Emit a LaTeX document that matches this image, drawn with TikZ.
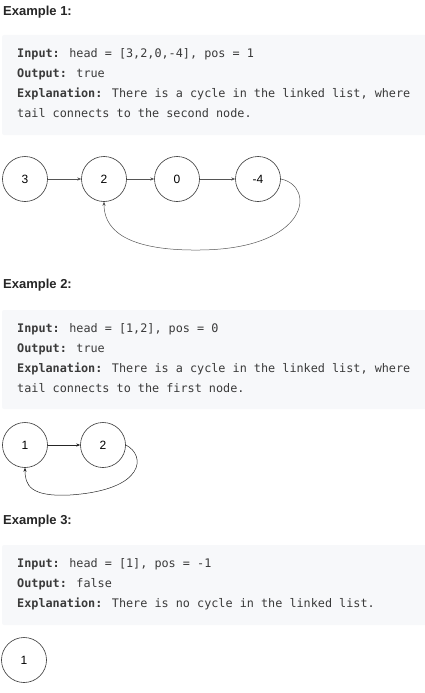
\documentclass[tikz,border=0pt]{standalone}
\usepackage{fontspec}
\setmainfont{Liberation Sans}
\newfontfamily\codefont{DejaVu Sans Mono}
\usetikzlibrary{arrows.meta}
\definecolor{boxbg}{HTML}{F7F8FA}
\definecolor{headtext}{HTML}{262626}
\definecolor{codetext}{HTML}{3A3A3A}
\definecolor{edgegray}{HTML}{555555}
\begin{document}
\begin{tikzpicture}[x=1pt,y=-1pt,
  heading/.style={anchor=mid west,inner sep=0pt,text=headtext,font=\fontsize{13}{15}\selectfont\bfseries},
  codebox/.style={fill=boxbg,draw=none,rounded corners=2pt},
  codeline/.style={anchor=mid west,inner sep=0pt,text=codetext,font=\codefont\fontsize{11.8}{14}\selectfont},
  listnode/.style={circle,draw=black!80,line width=0.6pt,minimum size=45pt,inner sep=0pt,font=\fontsize{12}{14}\selectfont},
  link/.style={draw=edgegray,line width=0.5pt,-{Stealth[length=4pt,width=3.2pt]}},
]
\useasboundingbox (0,0) rectangle (425,693);

% ---------- Example 1 ----------
\node[heading] (h1) at (3,13) {Example 1:};
\fill[codebox] (2,35) rectangle (428,135);
\node[codeline] (a1) at (17,55) {\textbf{Input:} head = [3,2,0,-4], pos = 1};
\node[codeline] (a2) at (17,75) {\textbf{Output:} true};
\node[codeline] (a3) at (17,95) {\textbf{Explanation:} There is a cycle in the linked list, where};
\node[codeline] (a4) at (17,115) {tail connects to the second node.};

\node[listnode] (p3) at (25,179) {3};
\node[listnode] (p2) at (104,179) {2};
\node[listnode] (p0) at (177,179) {0};
\node[listnode] (p4) at (258,179) {-4};
\draw[link] (p3) -- (p2);
\draw[link] (p2) -- (p0);
\draw[link] (p0) -- (p4);
\draw[link] (p4.east) .. controls (316,186) and (310,249) .. (200,250)
  .. controls (120,251) and (104,226) .. (p2.south);

% ---------- Example 2 ----------
\node[heading] (h2) at (3,286) {Example 2:};
\fill[codebox] (2,310) rectangle (428,409);
\node[codeline] (b1) at (17,330) {\textbf{Input:} head = [1,2], pos = 0};
\node[codeline] (b2) at (17,350) {\textbf{Output:} true};
\node[codeline] (b3) at (17,370) {\textbf{Explanation:} There is a cycle in the linked list, where};
\node[codeline] (b4) at (17,390) {tail connects to the first node.};

\node[listnode] (q1) at (25,445) {1};
\node[listnode] (q2) at (103,445) {2};
\draw[link,draw=black!85] (q1) -- (q2);
\draw[link,draw=black!85] (q2.east) .. controls (146,455) and (146,490) .. (70,495)
  .. controls (30,497) and (25,485) .. (q1.south);

% ---------- Example 3 ----------
\node[heading] (h3) at (3,522) {Example 3:};
\fill[codebox] (2,545) rectangle (428,625);
\node[codeline] (c1) at (17,565) {\textbf{Input:} head = [1], pos = -1};
\node[codeline] (c2) at (17,585) {\textbf{Output:} false};
\node[codeline] (c3) at (17,605) {\textbf{Explanation:} There is no cycle in the linked list.};

\node[listnode] (r1) at (24,660) {1};
\end{tikzpicture}
\end{document}
